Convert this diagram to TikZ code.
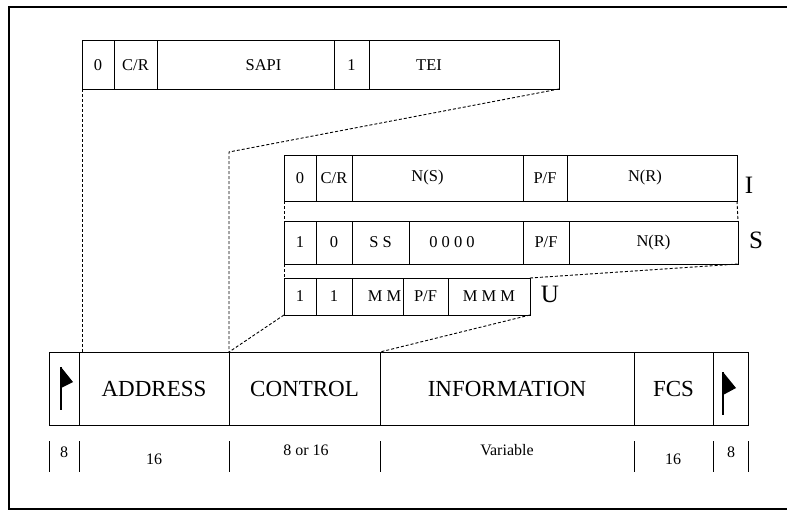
\documentclass[tikz,border=0pt]{standalone}
\usepackage{fontspec}
\setmainfont{Liberation Serif}
\begin{document}
\begin{tikzpicture}[x=1pt,y=-1pt,
  fld/.style={draw, line width=1pt, inner sep=0pt, outer sep=0pt, anchor=north west, font=\fontsize{16.5}{19}\selectfont},
  lblf/.style={font=\fontsize{16.5}{19}\selectfont},
  mainfld/.style={fld, minimum height=73pt, font=\fontsize{23}{26}\selectfont},
  rowlbl/.style={inner sep=0pt, font=\fontsize{25}{28}\selectfont},
  con/.style={line width=0.9pt, dash pattern=on 3pt off 2pt},
  tickln/.style={line width=0.9pt},
  bit/.style={inner sep=0pt, font=\fontsize{16}{19}\selectfont}]
\useasboundingbox (0,0) rectangle (787,511);
% outer frame
\draw[line width=2.4pt] (787,7) -- (9,7) -- (9,509) -- (787,509);

% address octets
\node[fld, minimum width=32pt, minimum height=48pt] (a0) at (82,41) {0};
\node[fld, minimum width=43pt, minimum height=48pt] (acr) at (a0.north east) {C/R};
\node[fld, minimum width=177pt, minimum height=48pt, label={[xshift=18pt, lblf]center:SAPI}] (asapi) at (acr.north east) {};
\node[fld, minimum width=35pt, minimum height=48pt] (a1) at (asapi.north east) {1};
\node[fld, minimum width=190pt, minimum height=48pt, label={[xshift=-35pt, lblf]center:TEI}] (atei) at (a1.north east) {};

% I format
\node[fld, minimum width=32pt, minimum height=46pt] (i0) at (284,155) {0};
\node[fld, minimum width=36pt, minimum height=46pt] (icr) at (i0.north east) {C/R};
\node[fld, minimum width=171pt, minimum height=46pt, label={[xshift=-10pt, lblf]center:N(S)}] (ins) at (icr.north east) {};
\node[fld, minimum width=44pt, minimum height=46pt] (ipf) at (ins.north east) {P/F};
\node[fld, minimum width=170pt, minimum height=46pt, label={[xshift=-7pt, lblf]center:N(R)}] (inr) at (ipf.north east) {};
\node[rowlbl] (li) at (749,185) {I};

% S format
\node[fld, minimum width=32pt, minimum height=43pt] (s0) at (284,221) {1};
\node[fld, minimum width=36pt, minimum height=43pt] (s1) at (s0.north east) {0};
\node[fld, minimum width=57pt, minimum height=43pt] (sss) at (s1.north east) {S S};
\node[fld, minimum width=114pt, minimum height=43pt, label={[xshift=-14pt, lblf]center:0 0 0 0}] (s4) at (sss.north east) {};
\node[fld, minimum width=46pt, minimum height=43pt] (spf) at (s4.north east) {P/F};
\node[fld, minimum width=169pt, minimum height=43pt] (snr) at (spf.north east) {N(R)};
\node[rowlbl] (ls) at (756,240) {S};

% U format
\node[fld, minimum width=32pt, minimum height=37pt] (u0) at (284,278) {1};
\node[fld, minimum width=36pt, minimum height=37pt] (u1) at (u0.north east) {1};
\node[fld, minimum width=51pt, minimum height=37pt, label={[xshift=7pt, lblf]center:M M}] (umm) at (u1.north east) {};
\node[fld, minimum width=45pt, minimum height=37pt] (upf) at (umm.north east) {P/F};
\node[fld, minimum width=82pt, minimum height=37pt] (ummm) at (upf.north east) {M M M};
\node[rowlbl] (lu) at (550,294) {U};

% main frame
\node[mainfld, minimum width=30pt] (mF1) at (49,352) {};
\node[mainfld, minimum width=150pt] (mA) at (mF1.north east) {ADDRESS};
\node[mainfld, minimum width=151pt] (mC) at (mA.north east) {CONTROL};
\node[mainfld, minimum width=254pt] (mI) at (mC.north east) {INFORMATION};
\node[mainfld, minimum width=79pt] (mS) at (mI.north east) {FCS};
\node[mainfld, minimum width=35pt] (mF2) at (mS.north east) {};

% flags
\fill (61,367) -- (73,382) -- (61,388) -- cycle;
\draw[line width=1.2pt] (61,367) -- (61,410);
\fill (723,372) -- (736,388) -- (723,395) -- cycle;
\draw[line width=1.2pt] (723,372) -- (723,415);

% dashed connectors
\coordinate (c1) at (229,152);
\draw[con] (a0.south west) -- (a0.south west |- mA.north);
\draw[con] (atei.south east) -- (c1) -- (mC.north west);
\draw[con] (i0.south west) -- (s0.north west);
\draw[con] (inr.south east) -- (snr.north east);
\draw[con] (s0.south west) -- (u0.north west);
\draw[con] (ummm.north east) -- (snr.south east);
\draw[con] (u0.south west) -- (mC.north west);
\draw[con] (ummm.south east) -- (mI.north west);

% bit counts
\foreach \x in {49,79,229,380,634,713,748} { \draw[tickln] (\x,441) -- (\x,472); }
\node[bit] (b1) at (64,452) {8};
\node[bit] (b2) at (154,459) {16};
\node[bit] (b3) at (306,450) {8 or 16};
\node[bit] (b4) at (507,450) {Variable};
\node[bit] (b5) at (673,459) {16};
\node[bit] (b6) at (731,452) {8};
\end{tikzpicture}
\end{document}
